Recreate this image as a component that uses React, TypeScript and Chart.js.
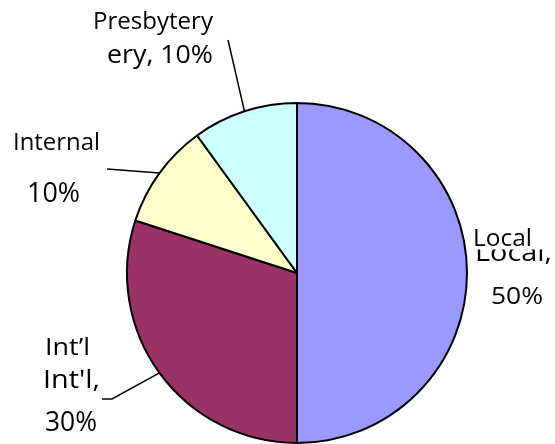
import React, { useEffect, useRef } from "react";
import { Chart, registerables } from "chart.js";

Chart.register(...registerables);

const categories = ["Local", "Int'l", "Internal", "Presbytery"];
const shares = [50, 30, 10, 10];
const sliceColors = ["#9999FF", "#993366", "#FFFFCC", "#CCFFFF"];

// label text pieces as they appear in the picture (some overlap / are cut off)
const labelTexts = [
  "Presbytery",
  "ery, 10%",
  "Internal",
  "10%",
  "Local",
  "Local,",
  "50%",
  "Int\u2019l",
  "Int'l,",
  "30%",
];

// layout for each text: left x, baseline y, cap height, target width, optional clip band
const textLayout = [
  { x: 93, y: 28.5, cap: 16.5, w: 120 },
  { x: 107, y: 63, cap: 18.3, w: 106 },
  { x: 13, y: 149.5, cap: 17, w: 87 },
  { x: 27, y: 202, cap: 19.5, w: 53 },
  { x: 473, y: 246, cap: 16.5, w: 59 },
  { x: 475, y: 261, cap: 18.5, w: 77, clip: [249.5, 268] },
  { x: 491, y: 304, cap: 17.5, w: 52 },
  { x: 45, y: 355, cap: 17, w: 45 },
  { x: 43, y: 388, cap: 18, w: 57 },
  { x: 45, y: 431, cap: 19, w: 52 },
];

// leader line end points per slice index (null = none)
const leaderEnds: (number[][] | null)[] = [
  null,
  [[112, 399], [102, 399]],
  [[107, 169]],
  [[228, 40]],
];

const FONT = "'Open Sans'";
const CAP_RATIO = 0.714;

const labelPlugin = {
  id: "pieLabels",
  afterDraw(chart: any) {
    const ctx = chart.ctx as CanvasRenderingContext2D;
    const meta = chart.getDatasetMeta(0);
    ctx.save();
    ctx.strokeStyle = "#000";
    ctx.lineWidth = 1.5;
    meta.data.forEach((arc: any, i: number) => {
      const ends = leaderEnds[i];
      if (!ends) return;
      const p = arc.getProps(["x", "y", "startAngle", "endAngle", "outerRadius"], true);
      const mid = (p.startAngle + p.endAngle) / 2;
      const sx = p.x + Math.cos(mid) * p.outerRadius;
      const sy = p.y + Math.sin(mid) * p.outerRadius;
      ctx.beginPath();
      ctx.moveTo(sx, sy);
      ends.forEach((pt) => ctx.lineTo(pt[0], pt[1]));
      ctx.stroke();
    });
    ctx.fillStyle = "#000";
    ctx.textBaseline = "alphabetic";
    ctx.textAlign = "left";
    labelTexts.forEach((t, i) => {
      const l: any = textLayout[i];
      const size = l.cap / CAP_RATIO;
      ctx.font = `${size}px ${FONT}`;
      const mw = ctx.measureText(t).width;
      const sx = l.w / mw;
      ctx.save();
      if (l.clip) {
        ctx.beginPath();
        ctx.rect(0, l.clip[0], chart.width, l.clip[1] - l.clip[0]);
        ctx.clip();
      }
      ctx.translate(l.x, l.y);
      ctx.scale(sx, 1);
      ctx.fillText(t, 0, 0);
      ctx.restore();
    });
    ctx.restore();
  },
};

export default function App() {
  const ref = useRef<HTMLCanvasElement>(null);
  useEffect(() => {
    if (!ref.current) return;
    const chart = new Chart(ref.current, {
      type: "pie",
      data: {
        labels: categories,
        datasets: [
          {
            data: shares,
            backgroundColor: sliceColors,
            borderColor: "#000",
            borderWidth: 2,
          },
        ],
      },
      options: {
        animation: false,
        responsive: false,
        maintainAspectRatio: false,
        layout: { padding: { left: 126, top: 102, right: 87, bottom: 0 } },
        plugins: {
          legend: { display: false },
          tooltip: { enabled: false },
        },
      },
      plugins: [labelPlugin],
    });
    return () => chart.destroy();
  }, []);
  return (
    <div style={{ position: "absolute", left: 0, top: 0, width: 555, height: 444, background: "#fff" }}>
      <canvas ref={ref} width={555} height={444} style={{ display: "block" }} />
    </div>
  );
}
